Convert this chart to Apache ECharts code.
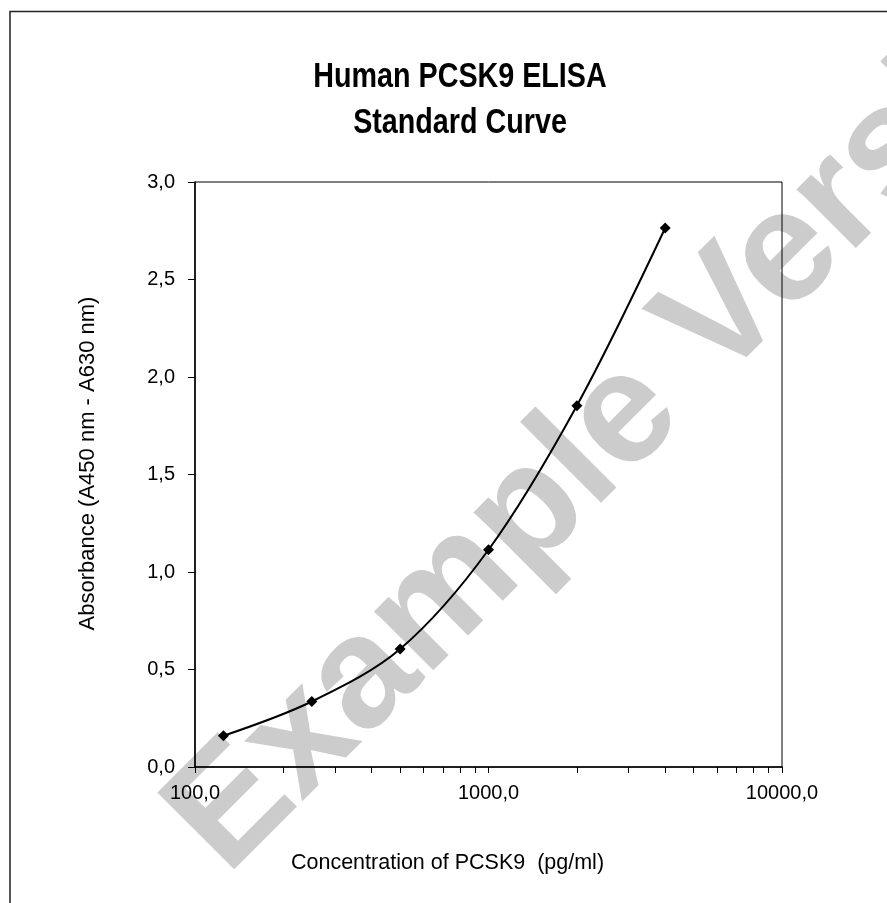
<!DOCTYPE html>
<html>
<head>
<meta charset="utf-8">
<script src="https://cdn.jsdelivr.net/npm/echarts@6/dist/echarts.min.js"></script>
<style>
html,body{margin:0;padding:0;background:#fff;}
#chart{width:887px;height:903px;}
</style>
</head>
<body>
<div id="chart"></div>
<script>
// Data
const concentrations = [125, 250, 500, 1000, 2000, 4000];
const absorbances = [0.16, 0.336, 0.605, 1.114, 1.853, 2.764];
const titleLines = ['Human PCSK9 ELISA', 'Standard Curve'];
const xAxisTitle = 'Concentration of PCSK9  (pg/ml)';
const yAxisTitle = 'Absorbance (A450 nm - A630 nm)';
const watermarkText = 'Example Version';

const SANS = "'Liberation Sans', Arial, sans-serif";
const comma = v => Number(v).toFixed(1).replace('.', ',');

const chart = echarts.init(document.getElementById('chart'), null, {renderer: 'canvas'});
chart.setOption({
  backgroundColor: '#fff',
  animation: false,
  graphic: [
    {
      type: 'rect', z: -20, silent: true,
      shape: {x: 10, y: 11.5, width: 1000, height: 1000},
      style: {fill: 'none', stroke: '#222', lineWidth: 1.5}
    },
    {
      type: 'text', z: -10, silent: true,
      x: 196, y: 846, rotation: Math.PI / 4,
      style: {
        text: watermarkText, x: 0, y: 0,
        font: "bold 158px " + SANS,
        fill: '#cccccc', align: 'left', verticalAlign: 'middle'
      }
    },
    {
      type: 'text', z: 10, silent: true,
      x: 460, y: 54, scaleX: 0.82,
      style: {
        text: titleLines.join('\n'), x: 0, y: 0,
        font: "bold 35px " + SANS, lineHeight: 46,
        fill: '#000', align: 'center', verticalAlign: 'top'
      }
    }
  ],
  grid: {
    left: 195, right: 105, top: 182, bottom: 136,
    show: true, borderColor: '#000', borderWidth: 1, backgroundColor: 'transparent'
  },
  xAxis: {
    type: 'log', logBase: 10, min: 100, max: 10000,
    name: xAxisTitle, nameLocation: 'middle', nameGap: 85,
    nameTextStyle: {fontFamily: SANS, fontSize: 21.5, color: '#000', padding: [0, 82, 0, 0]},
    axisLine: {show: true, lineStyle: {color: '#000', width: 1.5}},
    axisTick: {show: true, inside: false, length: 6, lineStyle: {color: '#000', width: 1}},
    minorTick: {show: true, splitNumber: 9, length: 6, lineStyle: {color: '#000', width: 1}},
    splitLine: {show: false},
    minorSplitLine: {show: false},
    axisLabel: {fontFamily: SANS, fontSize: 20, color: '#000', margin: 16, formatter: comma}
  },
  yAxis: {
    type: 'value', min: 0, max: 3, interval: 0.5,
    name: yAxisTitle, nameLocation: 'middle', nameGap: 96, nameRotate: 90,
    nameTextStyle: {fontFamily: SANS, fontSize: 22, color: '#000', padding: [0, 0, 0, 22]},
    axisLine: {show: true, lineStyle: {color: '#000', width: 1.5}},
    axisTick: {show: true, inside: false, length: 7, lineStyle: {color: '#000', width: 1}},
    splitLine: {show: false},
    axisLabel: {fontFamily: SANS, fontSize: 20, color: '#000', margin: 20, formatter: comma}
  },
  series: [{
    type: 'line',
    data: concentrations.map((c, i) => [c, absorbances[i]]),
    smooth: 0.33,
    symbol: 'diamond',
    symbolSize: 11,
    lineStyle: {color: '#000', width: 2},
    itemStyle: {color: '#000'},
    z: 5
  }]
});
</script>
</body>
</html>
